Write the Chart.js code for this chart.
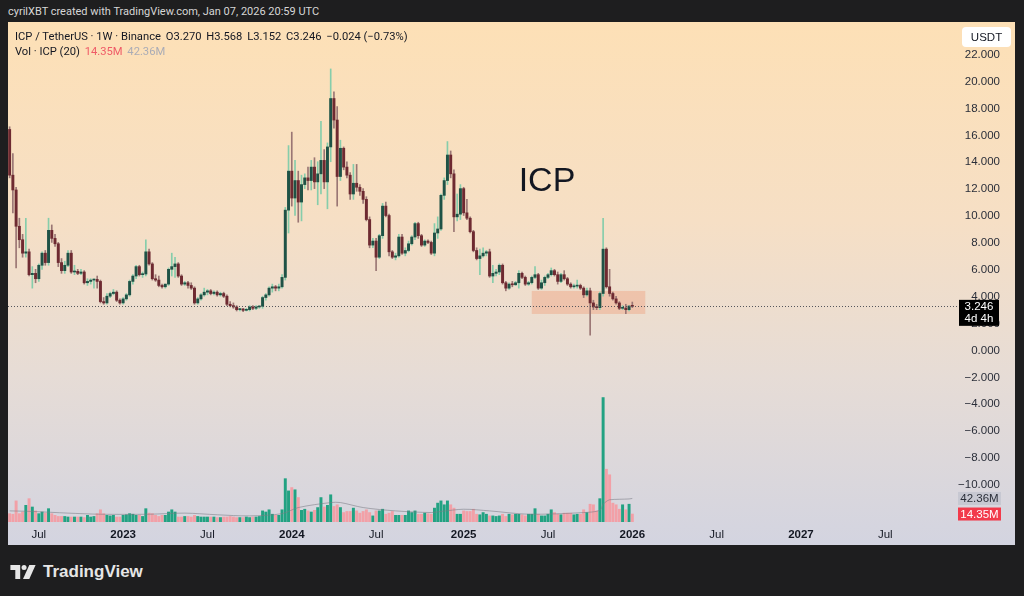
<!DOCTYPE html>
<html>
<head>
<meta charset="utf-8">
<title>ICP / TetherUS 1W</title>
<script src="https://cdn.jsdelivr.net/npm/chart.js@4.4.1/dist/chart.umd.min.js"></script>
<style>
  html, body { margin: 0; padding: 0; }
  body { width: 1024px; height: 596px; background: #1e1e1f; position: relative; overflow: hidden;
         font-family: Roboto, "Liberation Sans", Arial, sans-serif; }
  #byline { position: absolute; left: 8px; top: 5px; color: #d6d6d6; font-size: 11px; }
  #panel { position: absolute; left: 8px; top: 22px; width: 1007px; height: 523px;
           background: linear-gradient(to bottom, #fde0b6 0%, #f6dfc5 38%, #e6dcd6 68%, #d3d4e0 100%); }
  #legend { position: absolute; left: 7px; top: 7px; font-size: 11.2px; color: #131722; line-height: 15px; z-index: 2; }
  #legend span { margin-right: 2px; }
  #legend .red { color: #ef5b67; }
  #legend .grey { color: #aaacb6; }
  #brand { position: absolute; left: 10px; top: 562px; display: flex; align-items: center;
           color: #e6e6e6; font-size: 17px; font-weight: bold; font-family: "Liberation Sans", Arial, sans-serif; }
  #brand svg { margin-right: 7px; }
  canvas { position: absolute; left: 0; top: 0; }
</style>
</head>
<body>
<div id="byline">cyrilXBT created with TradingView.com, Jan 07, 2026 20:59 UTC</div>
<div id="panel">
  <div id="legend">
    <div><span>ICP / TetherUS · 1W · Binance</span> <span>O3.270</span> <span>H3.568</span> <span>L3.152</span> <span>C3.246</span> <span>−0.024 (−0.73%)</span></div>
    <div><span>Vol · ICP (20)</span> <span class="red">14.35M</span> <span class="grey">42.36M</span></div>
  </div>
  <canvas id="chart" width="1007" height="523"></canvas>
</div>
<div id="brand">
  <svg width="26" height="14" viewBox="0 0 36 20">
    <polygon points="0,0 14,0 14,20 7,20 7,7 0,7" fill="#e6e6e6"/>
    <circle cx="19.5" cy="3.6" r="3.6" fill="#e6e6e6"/>
    <polygon points="27,0 36,0 27,20 18,20" fill="#e6e6e6"/>
  </svg>
  TradingView
</div>
<script>
// weekly candles, first week starts 2022-05-02
const firstWeek = "2022-05-02";
const slotCount = 292;

const opens = [
  16.4, 13.0, 11.9, 9.2, 8.2, 7.2, 7.3, 5.6, 5.7, 5.3,
  6.3, 7.2, 6.5, 8.9, 8.3, 7.9, 6.5, 5.9, 6.3, 7.2,
  5.8, 5.85, 5.7, 5.8, 5.0, 5.1, 5.2, 5.25, 5.1, 3.6,
  3.5, 4.0, 4.2, 4.3, 3.7, 3.5, 3.8, 4.1, 5.1, 5.5,
  6.2, 5.6, 5.65, 7.3, 6.4, 5.3, 5.2, 4.8, 4.7, 4.9,
  6.0, 6.2, 6.4, 5.5, 4.9, 5.0, 4.8, 4.6, 3.5, 3.8,
  4.1, 4.3, 4.4, 4.2, 4.3, 4.1, 4.2, 4.0, 3.4, 3.3,
  3.2, 3.0, 3.05, 2.95, 3.0, 3.2, 3.1, 3.2, 3.25, 3.9,
  4.1, 4.6, 4.7, 4.6, 4.7, 5.4, 10.4, 13.3, 11.3, 12.6,
  11.0, 12.3, 12.8, 12.6, 13.6, 12.5, 13.1, 14.1, 12.5, 15.1,
  18.7, 17.1, 12.9, 15.0, 13.6, 13.0, 11.6, 12.4, 12.1, 11.8,
  11.2, 9.7, 7.8, 8.1, 6.9, 8.5, 10.7, 10.0, 7.3, 6.9,
  7.0, 8.4, 7.2, 7.4, 7.9, 8.4, 9.4, 8.5, 7.8, 8.1,
  8.0, 7.2, 8.7, 9.0, 11.5, 12.6, 14.5, 13.1, 9.9, 10.1,
  12.0, 10.2, 9.8, 8.8, 7.4, 6.8, 7.0, 7.2, 7.3, 5.5,
  5.7, 5.8, 6.3, 5.0, 4.6, 4.9, 4.85, 5.0, 5.7, 5.4,
  4.9, 5.0, 5.4, 5.6, 4.6, 5.0, 5.4, 5.6, 5.9, 5.6,
  5.1, 5.6, 5.3, 4.9, 4.7, 4.75, 4.8, 4.6, 4.1, 4.4,
  3.5, 3.2, 3.15, 4.2, 7.5, 4.7, 4.2, 3.8, 3.5, 3.1,
  3.12, 3.0, 3.27
];
const highs = [
  16.6, 14.6, 12.1, 9.8, 8.6, 9.8, 7.5, 6.2, 6.0, 6.4,
  7.3, 7.4, 9.8, 9.3, 8.6, 8.0, 6.8, 6.6, 7.4, 7.4,
  6.3, 6.0, 6.0, 5.9, 5.3, 5.3, 5.3, 5.5, 5.2, 3.9,
  4.2, 4.3, 4.5, 4.4, 3.8, 3.9, 4.2, 5.2, 5.6, 6.3,
  6.3, 5.8, 8.2, 7.5, 6.5, 5.6, 5.5, 4.9, 4.9, 6.1,
  7.2, 6.9, 6.5, 5.6, 5.1, 5.1, 5.0, 4.7, 3.9, 4.2,
  4.6, 4.5, 4.5, 4.4, 4.4, 4.3, 4.3, 4.1, 3.6, 3.5,
  3.3, 3.1, 3.1, 3.1, 3.3, 3.3, 3.3, 3.3, 4.0, 4.2,
  4.7, 4.9, 4.8, 4.9, 5.6, 10.6, 15.2, 16.2, 14.1, 13.3,
  13.0, 13.1, 13.6, 14.1, 14.3, 14.0, 17.0, 14.9, 15.4, 20.9,
  19.2, 18.1, 15.6, 15.1, 14.0, 13.2, 13.8, 13.8, 12.3, 12.0,
  11.4, 9.9, 8.3, 8.3, 8.6, 10.9, 11.0, 10.1, 7.4, 7.2,
  8.6, 8.6, 7.6, 8.1, 8.5, 9.5, 9.5, 8.6, 8.2, 8.2,
  8.1, 9.4, 9.9, 11.6, 12.8, 15.5, 14.8, 13.4, 11.6, 12.3,
  12.1, 11.2, 9.9, 8.9, 7.6, 7.5, 7.6, 7.4, 7.5, 6.3,
  6.0, 6.4, 6.4, 5.1, 5.0, 5.1, 5.1, 5.9, 5.8, 5.5,
  5.1, 5.5, 6.2, 5.7, 5.2, 5.5, 5.7, 6.1, 6.0, 5.8,
  5.7, 5.9, 5.4, 5.0, 4.9, 5.2, 4.9, 4.7, 4.6, 4.6,
  3.7, 3.4, 4.3, 9.8, 7.6, 6.0, 4.3, 4.0, 3.6, 3.3,
  3.4, 3.3, 3.568
];
const lows = [
  12.8, 10.2, 6.1, 7.6, 6.9, 6.9, 5.5, 4.6, 5.0, 5.1,
  6.0, 6.3, 6.3, 8.0, 7.7, 6.2, 5.7, 5.7, 6.2, 5.7,
  5.6, 5.6, 5.6, 4.9, 4.8, 4.9, 4.6, 4.6, 3.5, 3.4,
  3.4, 3.9, 4.1, 3.6, 3.4, 3.4, 3.7, 4.0, 4.9, 5.3,
  5.5, 5.4, 5.5, 6.3, 5.2, 5.1, 4.7, 4.6, 4.6, 4.8,
  5.5, 5.4, 5.4, 4.8, 4.8, 4.6, 4.5, 3.4, 3.4, 3.7,
  4.0, 4.1, 4.1, 4.1, 4.0, 4.0, 3.9, 3.3, 3.2, 3.1,
  2.9, 2.9, 2.85, 2.9, 2.9, 3.0, 3.0, 3.1, 3.1, 3.7,
  4.0, 4.3, 4.4, 4.4, 4.6, 5.2, 8.7, 10.7, 10.0, 9.5,
  9.6, 12.0, 11.9, 11.9, 12.0, 10.8, 11.6, 12.0, 10.5, 14.0,
  16.5, 10.7, 12.6, 13.4, 12.8, 11.2, 11.2, 11.8, 11.5, 10.9,
  9.6, 7.6, 7.6, 5.9, 6.8, 8.3, 9.9, 7.0, 6.8, 6.7,
  6.9, 7.1, 7.0, 7.3, 7.8, 8.2, 8.3, 7.7, 7.7, 7.9,
  7.1, 7.0, 8.3, 8.9, 11.2, 12.3, 12.8, 8.8, 9.6, 9.7,
  10.0, 9.7, 8.7, 7.3, 6.7, 5.6, 6.9, 7.0, 5.4, 5.0,
  5.5, 5.6, 4.9, 4.4, 4.5, 4.7, 4.8, 4.6, 5.3, 4.8,
  4.8, 4.9, 5.3, 4.5, 4.5, 4.8, 5.3, 5.5, 5.5, 4.9,
  5.0, 5.2, 4.8, 4.6, 4.6, 4.6, 4.5, 3.9, 4.0, 1.1,
  3.0, 3.0, 3.0, 4.0, 4.6, 4.0, 3.7, 3.4, 3.0, 3.0,
  2.7, 2.9, 3.152
];
const closes = [
  13.0, 11.9, 9.2, 8.2, 7.2, 7.3, 5.6, 5.7, 5.3, 6.3,
  7.2, 6.5, 8.9, 8.3, 7.9, 6.5, 5.9, 6.3, 7.2, 5.8,
  5.85, 5.7, 5.8, 5.0, 5.1, 5.2, 5.25, 5.1, 3.6, 3.5,
  4.0, 4.2, 4.3, 3.7, 3.5, 3.8, 4.1, 5.1, 5.5, 6.2,
  5.6, 5.65, 7.3, 6.4, 5.3, 5.2, 4.8, 4.7, 4.9, 6.0,
  6.2, 6.4, 5.5, 4.9, 5.0, 4.8, 4.6, 3.5, 3.8, 4.1,
  4.3, 4.4, 4.2, 4.3, 4.1, 4.2, 4.0, 3.4, 3.3, 3.2,
  3.0, 3.05, 2.95, 3.0, 3.2, 3.1, 3.2, 3.25, 3.9, 4.1,
  4.6, 4.7, 4.6, 4.7, 5.4, 10.4, 13.3, 11.3, 12.6, 11.0,
  12.3, 12.8, 12.6, 13.6, 12.5, 13.1, 14.1, 12.5, 15.1, 18.7,
  17.1, 12.9, 15.0, 13.6, 13.0, 11.6, 12.4, 12.1, 11.8, 11.2,
  9.7, 7.8, 8.1, 6.9, 8.5, 10.7, 10.0, 7.3, 6.9, 7.0,
  8.4, 7.2, 7.4, 7.9, 8.4, 9.4, 8.5, 7.8, 8.1, 8.0,
  7.2, 8.7, 9.0, 11.5, 12.6, 14.5, 13.1, 9.9, 10.1, 12.0,
  10.2, 9.8, 8.8, 7.4, 6.8, 7.0, 7.2, 7.3, 5.5, 5.7,
  5.8, 6.3, 5.0, 4.6, 4.9, 4.85, 5.0, 5.7, 5.4, 4.9,
  5.0, 5.4, 5.6, 4.6, 5.0, 5.4, 5.6, 5.9, 5.6, 5.1,
  5.6, 5.3, 4.9, 4.7, 4.75, 4.8, 4.6, 4.1, 4.4, 3.5,
  3.2, 3.15, 4.2, 7.5, 4.7, 4.2, 3.8, 3.5, 3.1, 3.12,
  3.0, 3.27, 3.246
];
// weekly volume, millions of ICP
const volumes = [
  15, 14, 38, 15, 18, 30, 42, 27, 20, 15,
  18, 16, 24, 15, 12, 10, 10, 10, 9, 9,
  9, 9, 9, 8, 12, 9, 10, 15, 22, 15,
  12, 11, 12, 9, 9, 12, 13, 15, 14, 12,
  12, 10, 24, 16, 15, 12, 10, 12, 12, 18,
  22, 18, 9, 9, 10, 10, 9, 12, 10, 9,
  9, 9, 9, 9, 8, 8, 9, 9, 10, 9,
  8, 8, 8, 9, 8, 9, 9, 10, 20, 18,
  22, 14, 12, 12, 22, 78, 56, 62, 58, 44,
  21, 23, 20, 18, 21, 26, 44, 27, 30, 49,
  28, 31, 26, 17, 19, 19, 25, 20, 16, 19,
  22, 17, 11, 20, 20, 23, 14, 16, 19, 12,
  12, 12, 12, 20, 17, 20, 14, 14, 16, 15,
  14, 25, 34, 38, 31, 38, 31, 25, 14, 14,
  20, 19, 19, 23, 14, 13, 17, 14, 11, 11,
  10, 11, 14, 10, 14, 13, 14, 14, 13, 11,
  14, 14, 24, 14, 11, 11, 14, 22, 17, 14,
  13, 16, 16, 16, 13, 14, 14, 22, 17, 32,
  31, 20, 42, 224, 95, 85, 34, 31, 23, 31,
  22, 32, 14.35
];
// volume MA(20)
const volMaWeeks = [0, 7, 18, 28, 43, 54, 64, 74, 84, 89, 99, 102, 109, 119, 130, 133, 140, 148, 160, 177, 182, 183, 184, 185, 191, 192];
const volMaValues = [20, 19, 16, 14, 14, 16, 13, 11, 15, 26, 35, 35, 26, 20, 17, 19, 23, 20, 14, 17, 21, 32, 37, 40, 41.5, 42.36];

const priceTicks = [-10, -8, -6, -4, -2, 0, 2, 4, 6, 8, 10, 12, 14, 16, 18, 20, 22];
const zoneWeeks = [161, 196];
const zonePrices = [4.39, 2.68];
const noteText = "ICP";
const notePos = [165.7, 12.55];
const lastPrice = 3.246;
const countdown = "4d 4h";

const upBody = "#1f5246", downBody = "#6e2a31";
const upWick = "#86cdab", downWick = "#9a7674";
const upVol = "#22a282", downVol = "#f2a0a7";

const weeks = [];
for (let i = 0; i < slotCount; i++) {
  weeks.push(new Date(Date.parse(firstWeek + "T00:00:00Z") + i * 7 * 864e5));
}
const labels = weeks.map(d => d.toISOString().slice(0, 10));

function tickText(i) {
  if (i === 0) return "";
  const m = weeks[i].getUTCMonth();
  if (m === weeks[i - 1].getUTCMonth()) return "";
  if (m === 0) return String(weeks[i].getUTCFullYear());
  if (m === 6) return "Jul";
  return "";
}

function priceText(v) {
  return (v < 0 ? "−" : "") + Math.abs(v).toFixed(3);
}

const isUp = closes.map((c, i) => c >= opens[i]);

const overlay = {
  id: "overlay",
  beforeDatasetsDraw(chart) {
    const { ctx, scales: { x, y } } = chart;
    const x0 = x.getPixelForValue(zoneWeeks[0]), x1 = x.getPixelForValue(zoneWeeks[1]);
    const y0 = y.getPixelForValue(zonePrices[0]), y1 = y.getPixelForValue(zonePrices[1]);
    ctx.save();
    ctx.fillStyle = "rgba(240,140,100,0.32)";
    ctx.fillRect(x0, y0, x1 - x0, y1 - y0);
    ctx.restore();
  },
  afterDatasetsDraw(chart) {
    const { ctx, chartArea, scales: { x, y } } = chart;
    const py = Math.round(y.getPixelForValue(lastPrice)) + 0.5;
    ctx.save();
    ctx.strokeStyle = "#55565c";
    ctx.lineWidth = 1;
    ctx.setLineDash([1, 2]);
    ctx.beginPath();
    ctx.moveTo(chartArea.left, py);
    ctx.lineTo(chartArea.right + 4, py);
    ctx.stroke();
    ctx.setLineDash([]);
    ctx.fillStyle = "#131722";
    ctx.font = '34px "Liberation Sans", Arial, sans-serif';
    ctx.textAlign = "center";
    ctx.textBaseline = "middle";
    ctx.fillText(noteText, x.getPixelForValue(notePos[0]), y.getPixelForValue(notePos[1]));
    ctx.restore();
  },
  afterDraw(chart) {
    const { ctx, scales: { y, yv } } = chart;
    ctx.save();
    ctx.font = '11.5px "Liberation Sans", Arial, sans-serif';
    ctx.textBaseline = "middle";
    // price scale labels, right aligned
    ctx.textAlign = "right";
    ctx.fillStyle = "#2a2e39";
    priceTicks.forEach(v => ctx.fillText(priceText(v), 992, y.getPixelForValue(v) + 0.5));
    ctx.textAlign = "center";
    // unit badge
    ctx.fillStyle = "#ffffff";
    ctx.beginPath();
    ctx.roundRect(954, 5, 49, 20, 4);
    ctx.fill();
    ctx.fillStyle = "#131722";
    ctx.fillText("USDT", 978.5, 15.5);
    // last price + countdown
    const py = y.getPixelForValue(lastPrice);
    ctx.fillStyle = "#000000";
    ctx.fillRect(951, py - 6.5, 40, 26);
    ctx.fillStyle = "#ffffff";
    ctx.fillText(lastPrice.toFixed(3), 971, py + 0.5);
    ctx.fillText(countdown, 971, py + 12.5);
    // volume MA badge
    const my = yv.getPixelForValue(volMaValues[volMaValues.length - 1]);
    ctx.fillStyle = "#c7c8d2";
    ctx.fillRect(950, my - 6.5, 43, 13);
    ctx.fillStyle = "#2a2e39";
    ctx.fillText(volMaValues[volMaValues.length - 1].toFixed(2) + "M", 971.5, my + 0.5);
    // volume badge
    const vy = yv.getPixelForValue(volumes[volumes.length - 1]);
    ctx.fillStyle = "#f23a4b";
    ctx.fillRect(950, vy - 6.5, 43, 13);
    ctx.fillStyle = "#ffffff";
    ctx.fillText(volumes[volumes.length - 1].toFixed(2) + "M", 971.5, vy + 0.5);
    ctx.restore();
  }
};

Chart.defaults.font.family = '"Liberation Sans", Arial, sans-serif';

new Chart(document.getElementById("chart"), {
  type: "bar",
  data: {
    labels: labels,
    datasets: [
      {
        label: "body",
        data: opens.map((o, i) => [o, closes[i]]),
        backgroundColor: isUp.map(u => u ? upBody : downBody),
        barThickness: 2.3,
        minBarLength: 1,
        grouped: false,
        yAxisID: "y",
        order: 0
      },
      {
        label: "wick",
        data: lows.map((l, i) => [l, highs[i]]),
        backgroundColor: isUp.map(u => u ? upWick : downWick),
        barThickness: 1,
        grouped: false,
        yAxisID: "y",
        order: 1
      },
      {
        type: "line",
        label: "vol ma",
        data: volMaWeeks.map((w, k) => ({ x: labels[w], y: volMaValues[k] })),
        borderColor: "rgba(120,122,132,0.55)",
        borderWidth: 1,
        pointRadius: 0,
        tension: 0.3,
        yAxisID: "yv",
        order: 2
      },
      {
        label: "volume",
        data: volumes,
        backgroundColor: isUp.map(u => u ? upVol : downVol),
        barThickness: 2.3,
        grouped: false,
        yAxisID: "yv",
        order: 3
      }
    ]
  },
  options: {
    responsive: false,
    animation: false,
    layout: { padding: 0 },
    plugins: { legend: { display: false }, tooltip: { enabled: false } },
    scales: {
      x: {
        grid: { display: false, drawTicks: false },
        border: { display: false },
        ticks: {
          autoSkip: false,
          maxRotation: 0,
          minRotation: 0,
          padding: 6,
          color: "#131722",
          font: c => ({ size: 11.5, weight: /^\d{4}$/.test(tickText(c.index)) ? "bold" : "normal" }),
          callback: (v, i) => tickText(i)
        },
        afterFit: s => { s.height = 23; s.paddingLeft = 0; s.paddingRight = 0; }
      },
      y: {
        position: "right",
        min: -12.79,
        max: 24.39,
        grid: { display: false, drawTicks: false },
        border: { display: false },
        ticks: { display: false },
        afterBuildTicks: s => { s.ticks = priceTicks.map(v => ({ value: v })); },
        afterFit: s => { s.width = 60; s.paddingTop = 0; s.paddingBottom = 0; }
      },
      yv: {
        display: false,
        min: 0,
        max: 900
      }
    }
  },
  plugins: [overlay]
});
</script>
</body>
</html>
